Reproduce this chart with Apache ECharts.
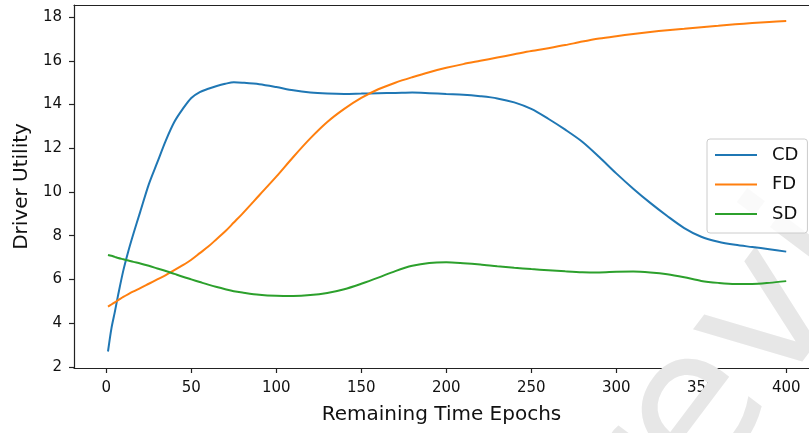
<!DOCTYPE html>
<html>
<head>
<meta charset="utf-8">
<script src="https://cdn.jsdelivr.net/npm/echarts@6/dist/echarts.min.js"></script>
<style>
  html, body { margin: 0; padding: 0; background: #fff; }
  #main { width: 809px; height: 433px; }
</style>
</head>
<body>
<div id="main"></div>
<script>
// epochs sampled along the x axis
const epochs = [1, 3, 5, 7, 10, 13, 16, 20, 25, 30, 35, 40, 45, 50, 55, 60, 65, 70, 75, 80,
  90, 100, 110, 120, 130, 140, 150, 160, 170, 180, 190, 200, 210, 220, 230, 240, 250,
  260, 270, 280, 290, 300, 310, 320, 330, 340, 350, 360, 370, 380, 390, 400]

const cdValues = [2.7, 3.75, 4.5, 5.3, 6.4, 7.3, 8.1, 9.1, 10.35, 11.35, 12.35, 13.2, 13.8, 14.3, 14.57,
  14.72, 14.85, 14.95, 15.02, 15.0, 14.93, 14.8, 14.65, 14.55, 14.5, 14.48, 14.5, 14.52, 14.53,
  14.55, 14.52, 14.48, 14.45, 14.38, 14.28, 14.1, 13.8, 13.35, 12.85, 12.3, 11.6, 10.85, 10.15,
  9.5, 8.9, 8.35, 7.95, 7.72, 7.58, 7.48, 7.38, 7.27]

const fdValues = [4.75, 4.85, 4.95, 5.05, 5.2, 5.33, 5.45, 5.6, 5.8, 6.0, 6.2, 6.42, 6.65, 6.9, 7.2,
  7.5, 7.85, 8.2, 8.6, 9.0, 9.85, 10.7, 11.6, 12.45, 13.2, 13.8, 14.3, 14.7, 15.0, 15.25, 15.48,
  15.68, 15.85, 16.0, 16.15, 16.3, 16.45, 16.58, 16.72, 16.88, 17.02, 17.13, 17.23, 17.32, 17.4,
  17.47, 17.54, 17.6, 17.67, 17.73, 17.78, 17.82]

const sdValues = [7.12, 7.08, 7.03, 6.98, 6.92, 6.86, 6.8, 6.73, 6.62, 6.5, 6.38, 6.25, 6.12, 6.0, 5.88,
  5.76, 5.65, 5.55, 5.46, 5.4, 5.3, 5.25, 5.24, 5.28, 5.38, 5.55, 5.8, 6.08, 6.38, 6.62, 6.75,
  6.78, 6.74, 6.68, 6.6, 6.53, 6.47, 6.42, 6.37, 6.33, 6.32, 6.35, 6.36, 6.32, 6.24, 6.1, 5.93,
  5.84, 5.79, 5.79, 5.84, 5.92]

const xTicks = [0, 50, 100, 150, 200, 250, 300, 350, 400]
const yTicks = [2, 4, 6, 8, 10, 12, 14, 16, 18]

const seriesNames = ['CD', 'FD', 'SD']
const seriesColors = ['#1f77b4', '#ff7f0e', '#2ca02c']

const FONT = 'DejaVu Sans'
const AXIS_COLOR = '#222'
const pairs = vals => epochs.map((e, i) => [e, vals[i]])

const chart = echarts.init(document.getElementById('main'), null, {renderer: 'canvas'})

// the original figure is cut at the right edge, so the x range ends where the page ends
const X_MIN = -19
const X_MAX = 413.4

const option = {
  animation: false,
  backgroundColor: '#fff',
  textStyle: {fontFamily: FONT},
  graphic: [
    {
      // faint watermark in the background
      type: 'text',
      x: 776,
      y: 312,
      rotation: 53 * Math.PI / 180,
      z: 1,
      silent: true,
      style: {
        text: 'Preview',
        font: '195px "DejaVu Sans"',
        fill: '#e7e7e7',
        align: 'center',
        verticalAlign: 'middle',
      },
    },
  ],
  grid: {
    left: 74,
    top: 5,
    right: 0,
    bottom: 65,
    show: false,
    containLabel: false,
  },
  legend: {
    orient: 'vertical',
    left: 707,
    top: 139,
    padding: [6, 9, 9, 8],
    icon: 'rect',
    itemWidth: 42,
    itemHeight: 2.2,
    itemGap: 9.5,
    backgroundColor: 'rgba(255,255,255,0.8)',
    borderColor: '#cccccc',
    borderWidth: 1,
    borderRadius: 3,
    z: 10,
    textStyle: {fontFamily: FONT, fontSize: 18, color: '#111', lineHeight: 20, padding: [0, 0, 0, 10]},
    data: seriesNames,
  },
  xAxis: [
    {
      type: 'value',
      min: X_MIN,
      max: X_MAX,
      name: 'Remaining Time Epochs',
      nameLocation: 'middle',
      nameGap: 37,
      nameTextStyle: {fontFamily: FONT, fontSize: 20, color: '#111'},
      axisLine: {show: true, onZero: false, lineStyle: {color: AXIS_COLOR, width: 1.2}},
      axisTick: {show: true, inside: false, length: 5, customValues: xTicks, lineStyle: {color: AXIS_COLOR, width: 1.2}},
      axisLabel: {fontFamily: FONT, fontSize: 15, color: '#111', margin: 13, customValues: xTicks},
      splitLine: {show: false},
    },
    {
      // top spine only
      type: 'value',
      position: 'top',
      min: X_MIN,
      max: X_MAX,
      axisLine: {show: true, onZero: false, lineStyle: {color: AXIS_COLOR, width: 1.2}},
      axisTick: {show: false},
      axisLabel: {show: false},
      splitLine: {show: false},
    },
  ],
  yAxis: {
    type: 'value',
    min: 1.945,
    max: 18.555,
    name: 'Driver Utility',
    nameLocation: 'middle',
    nameRotate: 90,
    nameGap: 42,
    nameTextStyle: {fontFamily: FONT, fontSize: 20, color: '#111'},
    axisLine: {show: true, onZero: false, lineStyle: {color: AXIS_COLOR, width: 1.2}},
    axisTick: {show: true, inside: false, length: 5, customValues: yTicks, lineStyle: {color: AXIS_COLOR, width: 1.2}},
    axisLabel: {fontFamily: FONT, fontSize: 15, color: '#111', margin: 12, customValues: yTicks},
    splitLine: {show: false},
  },
  series: [cdValues, fdValues, sdValues].map((vals, i) => ({
    name: seriesNames[i],
    type: 'line',
    xAxisIndex: 0,
    data: pairs(vals),
    symbol: 'none',
    smooth: 0.3,
    z: 3,
    color: seriesColors[i],
    lineStyle: {color: seriesColors[i], width: 2},
  })),
}

chart.setOption(option)
</script>
</body>
</html>
